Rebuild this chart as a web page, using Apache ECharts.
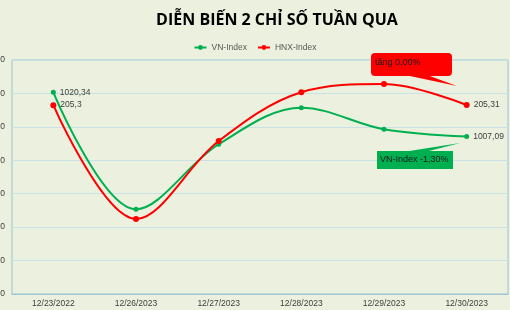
<!DOCTYPE html>
<html><head><meta charset="utf-8">
<script src="https://cdn.jsdelivr.net/npm/echarts@6/dist/echarts.min.js"></script>
<style>html,body{margin:0;padding:0;background:#EBF1DE;}#c{width:510px;height:310px;}</style>
</head><body><div id="c"></div>
<script>
const categories = ['12/23/2022','12/26/2023','12/27/2023','12/28/2023','12/29/2023','12/30/2023'];
const vnIndex = [1020.34, 985.34, 1004.8, 1015.73, 1009.27, 1007.09];
const hnxIndex = [205.3, 198.49, 203.15, 206.07, 206.56, 205.31];
const yTicks = [960, 970, 980, 990, 1000, 1010, 1020, 1030];
const title = 'DIỄN BIẾN 2 CHỈ SỐ TUẦN QUA';
const noteHnx = 'tăng 0,00%';
const noteVn = 'VN-Index -1,30%';

const chart = echarts.init(document.getElementById('c'), null, {renderer:'canvas'});
const fmt = v => String(v).replace('.', ',');
const endLabel = (arr) => ({
  show: true, position: 'right', distance: 4, color: '#404040', fontSize: 8.5,
  fontFamily: 'Liberation Sans, Arial',
  formatter: p => (p.dataIndex === 0 || p.dataIndex === arr.length - 1) ? fmt(arr[p.dataIndex]) : ''
});
chart.setOption({
  backgroundColor: '#EBF1DE',
  animation: false,
  title: {
    text: title, left: 272, top: 7, textAlign: 'center',
    textStyle: {fontSize: 16, fontWeight: 'bold', color: '#000', fontFamily: 'Open Sans, Liberation Sans, Arial'}
  },
  legend: {
    top: 38, left: 'center', itemWidth: 12, itemHeight: 6, itemGap: 10,
    textStyle: {fontSize: 8.5, color: '#595959', fontFamily: 'Liberation Sans, Arial'},
    data: [{name: 'VN-Index'}, {name: 'HNX-Index'}]
  },
  grid: {left: 12, right: 2, top: 60, bottom: 16, containLabel: false, outerBoundsMode: 'none',
    show: true, borderColor: '#9DC3D5', borderWidth: 1},
  xAxis: {
    type: 'category', data: categories, boundaryGap: true,
    axisLine: {lineStyle: {color: '#9DC3D5'}}, axisTick: {show: false},
    axisLabel: {color: '#404040', fontSize: 8.5, margin: 5, fontFamily: 'Liberation Sans, Arial'}
  },
  yAxis: [{
    type: 'value', min: 960, max: 1030, interval: 10,
    axisLine: {show: false}, axisTick: {show: false},
    splitLine: {lineStyle: {color: '#C8E2E6', width: 1}},
    axisLabel: {color: '#404040', fontSize: 8.5, margin: 7, fontFamily: 'Liberation Sans, Arial',
      formatter: v => yTicks.includes(v) ? String(v) : ''}
  }, {
    type: 'value', min: 194, max: 208, show: false, splitLine: {show: false}
  }],
  series: [{
    name: 'VN-Index', type: 'line', yAxisIndex: 0, data: vnIndex, smooth: 0.35,
    symbol: 'circle', symbolSize: 5, itemStyle: {color: '#00B050'},
    lineStyle: {color: '#00B050', width: 2}, label: endLabel(vnIndex), z: 3
  }, {
    name: 'HNX-Index', type: 'line', yAxisIndex: 1, data: hnxIndex, smooth: 0.35,
    symbol: 'circle', symbolSize: 6, itemStyle: {color: '#FF0000'},
    lineStyle: {color: '#FF0000', width: 2}, label: endLabel(hnxIndex), z: 4
  }],
  graphic: [
    {type: 'rect', shape: {x: 371, y: 53, width: 81, height: 23, r: 4}, style: {fill: '#FF0000'}, z: 10},
    {type: 'polygon', shape: {points: [[405, 75], [427, 75], [457, 86]]}, style: {fill: '#FF0000'}, z: 10},
    {type: 'text', x: 375, y: 58, style: {text: noteHnx, fill: '#1a1a1a', fontSize: 9, fontFamily: 'Liberation Sans, Arial'}, z: 11},
    {type: 'rect', shape: {x: 377, y: 151, width: 76, height: 18}, style: {fill: '#00B050'}, z: 10},
    {type: 'polygon', shape: {points: [[403, 152], [425, 152], [460, 143]]}, style: {fill: '#00B050'}, z: 10},
    {type: 'text', x: 380, y: 155, style: {text: noteVn, fill: '#1a1a1a', fontSize: 9, fontFamily: 'Liberation Sans, Arial'}, z: 11}
  ]
});
</script></body></html>
